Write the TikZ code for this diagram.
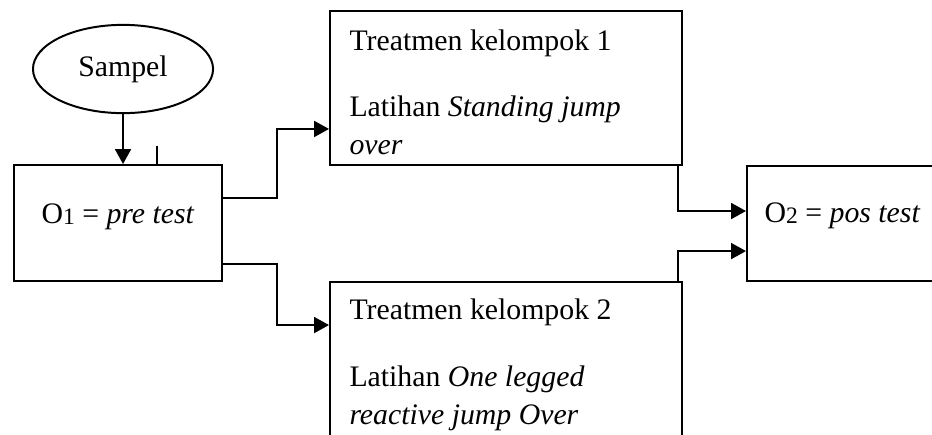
\documentclass[tikz,border=0pt]{standalone}
\usepackage{fontspec}
\setmainfont{Liberation Serif}
\usetikzlibrary{shapes.geometric,arrows.meta}
\newcommand{\idx}[1]{\raisebox{-0.6pt}{\fontsize{9.5}{11}\selectfont #1}}

\begin{document}
\begin{tikzpicture}[font=\fontsize{12}{15.3}\selectfont,
  box/.style={draw, thick, rectangle, inner sep=0pt},
  txt/.style={align=left, inner sep=0pt, anchor=north west},
  arr/.style={draw, thick, -{Triangle[length=6pt,width=6.4pt]}}]
\useasboundingbox (0,0) rectangle (13.197,-6.146);
\clip (0,0) rectangle (13.197,-6.146);
\node[draw, thick, ellipse, minimum width=2.55cm, minimum height=1.25cm] (s) at (1.742,-0.977) {Sampel};
\node[box, minimum width=2.945cm, minimum height=1.643cm] (o1) at (1.671,-3.158) {};
\node[box, minimum width=4.984cm, minimum height=2.181cm] (t1) at (7.165,-1.246) {};
\node[box, minimum width=4.984cm, minimum height=3.087cm] (t2) at (7.165,-5.537) {};
\node[box, minimum width=2.705cm, minimum height=1.63cm] (o2) at (11.93,-3.165) {};
\node[anchor=base] (o1t) at (o1.center) {O\idx{1} = \textit{pre test}};
\node[anchor=base] (o2t) at ([yshift=0.02cm]o2.center) {O\idx{2} = \textit{pos test}};
\node[txt] (t1t) at ([xshift=0.283cm,yshift=-0.27cm]t1.north west) {Treatmen kelompok 1\\[11.5pt] Latihan \textit{Standing jump}\\ \textit{over}};
\node[txt] (t2t) at ([xshift=0.283cm,yshift=-0.25cm]t2.north west) {Treatmen kelompok 2\\[11.5pt] Latihan \textit{One legged}\\ \textit{reactive jump Over}};
\coordinate (tick) at (2.223,-2.067);
\draw[arr] (s) -- (s |- o1.north);
\draw[thick] (tick) -- (tick |- o1.north);
\draw[arr] ([yshift=0.354cm]o1.east) -- ++(0.765,0) |- ([yshift=-0.58cm]t1.west);
\draw[arr] ([yshift=-0.58cm]o1.east) -- ++(0.765,0) |- ([yshift=-0.623cm]t2.north west);
\draw[arr] ([xshift=-0.07cm]t1.south east) |- ([yshift=0.177cm]o2.west);
\draw[arr] ([xshift=-0.07cm]t2.north east) |- ([yshift=-0.39cm]o2.west);
\end{tikzpicture}
\end{document}
